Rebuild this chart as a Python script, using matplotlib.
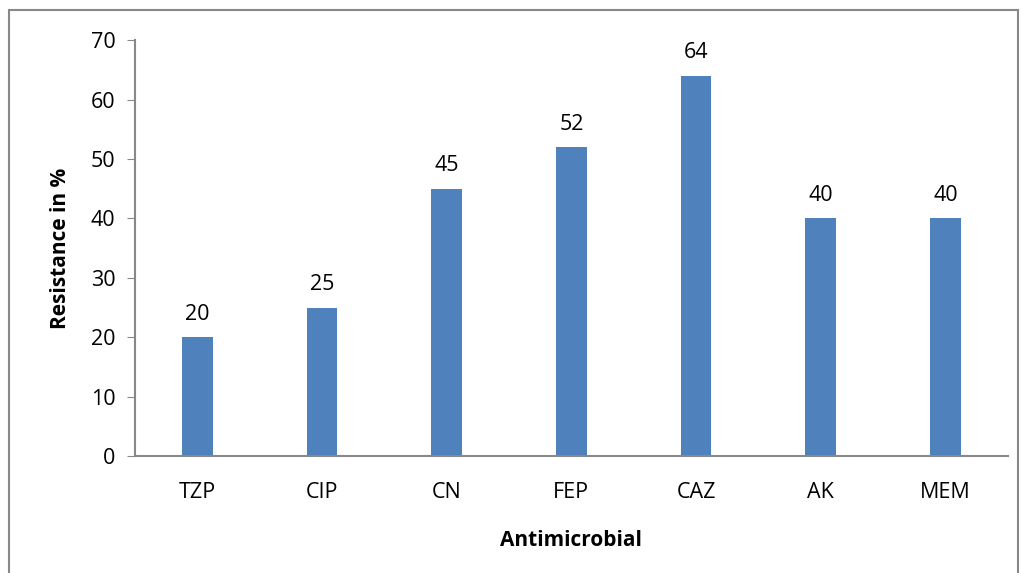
import matplotlib.pyplot as plt
from matplotlib.patches import Rectangle

plt.rcParams['font.family'] = ['Open Sans', 'DejaVu Sans']

drugs = ['TZP', 'CIP', 'CN', 'FEP', 'CAZ', 'AK', 'MEM']
resistance = [20, 25, 45, 52, 64, 40, 40]

fig = plt.figure(figsize=(10.23, 5.73), dpi=100)
ax = fig.add_axes([0.132, 0.204, 0.853, 0.726])

x = range(len(drugs))
bars = ax.bar(x, resistance, width=0.246, color='#4f81bd')
for b, v in zip(bars, resistance):
    ax.annotate(str(v), (b.get_x() + b.get_width() / 2, v), xytext=(0, 9),
                textcoords='offset points', ha='center', va='bottom', fontsize=15.5)

ax.set_xlim(-0.5, len(drugs) - 0.5)
ax.set_ylim(0, 70)
ax.set_yticks(range(0, 71, 10))
ax.set_xticks(list(x))
ax.set_xticklabels(drugs)
ax.tick_params(axis='y', labelsize=15.5, length=6, color='#888888', direction='out', pad=8)
ax.tick_params(axis='x', labelsize=15.5, length=0, pad=19)

for s in ['top', 'right']:
    ax.spines[s].set_visible(False)
for s in ['left', 'bottom']:
    ax.spines[s].set_color('#888888')
    ax.spines[s].set_linewidth(1.5)

ax.set_ylabel('Resistance in %', fontsize=15, fontweight='bold', labelpad=14)
ax.set_xlabel('Antimicrobial', fontsize=15, fontweight='bold', labelpad=19)

# outer chart frame
fig.patches.append(Rectangle((9 / 1023, -0.05), 1009 / 1023, 1.05 - 10 / 573,
                             transform=fig.transFigure, fill=False,
                             edgecolor='#888888', linewidth=1.5))

fig.savefig('out.png', dpi=100)
